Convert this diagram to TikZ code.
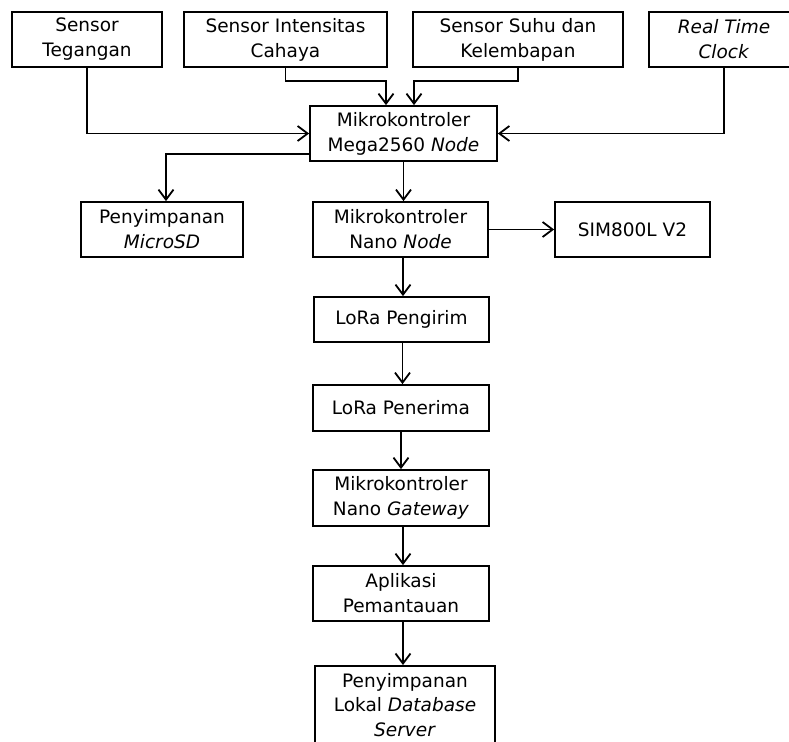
\documentclass[tikz,border=0pt]{standalone}
\usepackage{fontspec}
\setmainfont{DejaVu Sans}
\usetikzlibrary{arrows.meta}
\begin{document}
\begin{tikzpicture}[x=1pt,y=-1pt,
  box/.style={draw, line width=1.8pt, align=center, inner sep=0pt,
    font=\fontsize{18.5}{25}\selectfont},
  conn/.style={line width=1.8pt, -{Straight Barb[length=10pt,width=15pt,line width=1.8pt]}}]
\useasboundingbox (0,0) rectangle (789,741);
\clip (0,0) rectangle (789,741);
% top row
\node[box, minimum width=150pt, minimum height=55pt] (teg) at (87,39.5) {Sensor\\Tegangan};
\node[box, minimum width=203pt, minimum height=55pt] (cah) at (285.5,39.5) {Sensor Intensitas\\Cahaya};
\node[box, minimum width=210pt, minimum height=55pt] (suhu) at (518,39.5) {Sensor Suhu dan\\Kelembapan};
\node[box, minimum width=150pt, minimum height=55pt] (rtc) at (724,39.5) {\textit{Real Time}\\\textit{Clock}};
% mega
\node[box, minimum width=187pt, minimum height=55pt] (mega) at (403.5,133.5) {Mikrokontroler\\Mega2560 \textit{Node}};
% second row
\node[box, minimum width=162pt, minimum height=55pt] (sd) at (162,229.5) {Penyimpanan\\\textit{MicroSD}};
\node[box, minimum width=175pt, minimum height=55pt] (nano) at (400.5,229.5) {Mikrokontroler\\Nano \textit{Node}};
\node[box, minimum width=155pt, minimum height=55pt] (sim) at (632.5,229.5) {SIM800L V2};
% chain
\node[box, minimum width=175pt, minimum height=45pt] (tx) at (401.5,319.5) {LoRa Pengirim};
\node[box, minimum width=176pt, minimum height=46pt] (rx) at (401,408) {LoRa Penerima};
\node[box, minimum width=176pt, minimum height=56pt] (gw) at (401,498) {Mikrokontroler\\Nano \textit{Gateway}};
\node[box, minimum width=176pt, minimum height=55pt] (app) at (401,593.5) {Aplikasi\\Pemantauan};
\node[box, minimum width=180pt, minimum height=78pt, anchor=north,
  font=\fontsize{18.5}{24.5}\selectfont] (db) at (405,665) {\rule{0pt}{13pt}Penyimpanan\\Lokal \textit{Database}\\\textit{Server}};
% connectors
\draw[conn] (teg.south) |- (mega.west);
\draw[conn] (cah.south) -- ++(0,13) -| ([xshift=-17.5pt]mega.north);
\draw[conn] (suhu.south) -- ++(0,13) -| ([xshift=10.5pt]mega.north);
\draw[conn] (rtc.south) |- (mega.east);
\draw[conn] ([yshift=-20.5pt]mega.west) -| ([xshift=4pt]sd.north);
\draw[conn] (mega.south) -- (mega.south |- nano.north);
\draw[conn] (nano.east) -- (sim.west);
\draw[conn] ([xshift=2.5pt]nano.south) -- ([xshift=2.5pt]nano.south |- tx.north);
\draw[conn] ([xshift=1pt]tx.south) -- ([xshift=1pt]tx.south |- rx.north);
\draw[conn] (rx.south) -- (rx.south |- gw.north);
\draw[conn] ([xshift=2pt]gw.south) -- ([xshift=2pt]gw.south |- app.north);
\draw[conn] ([xshift=2pt]app.south) -- ([xshift=2pt]app.south |- db.north);
\end{tikzpicture}
\end{document}
